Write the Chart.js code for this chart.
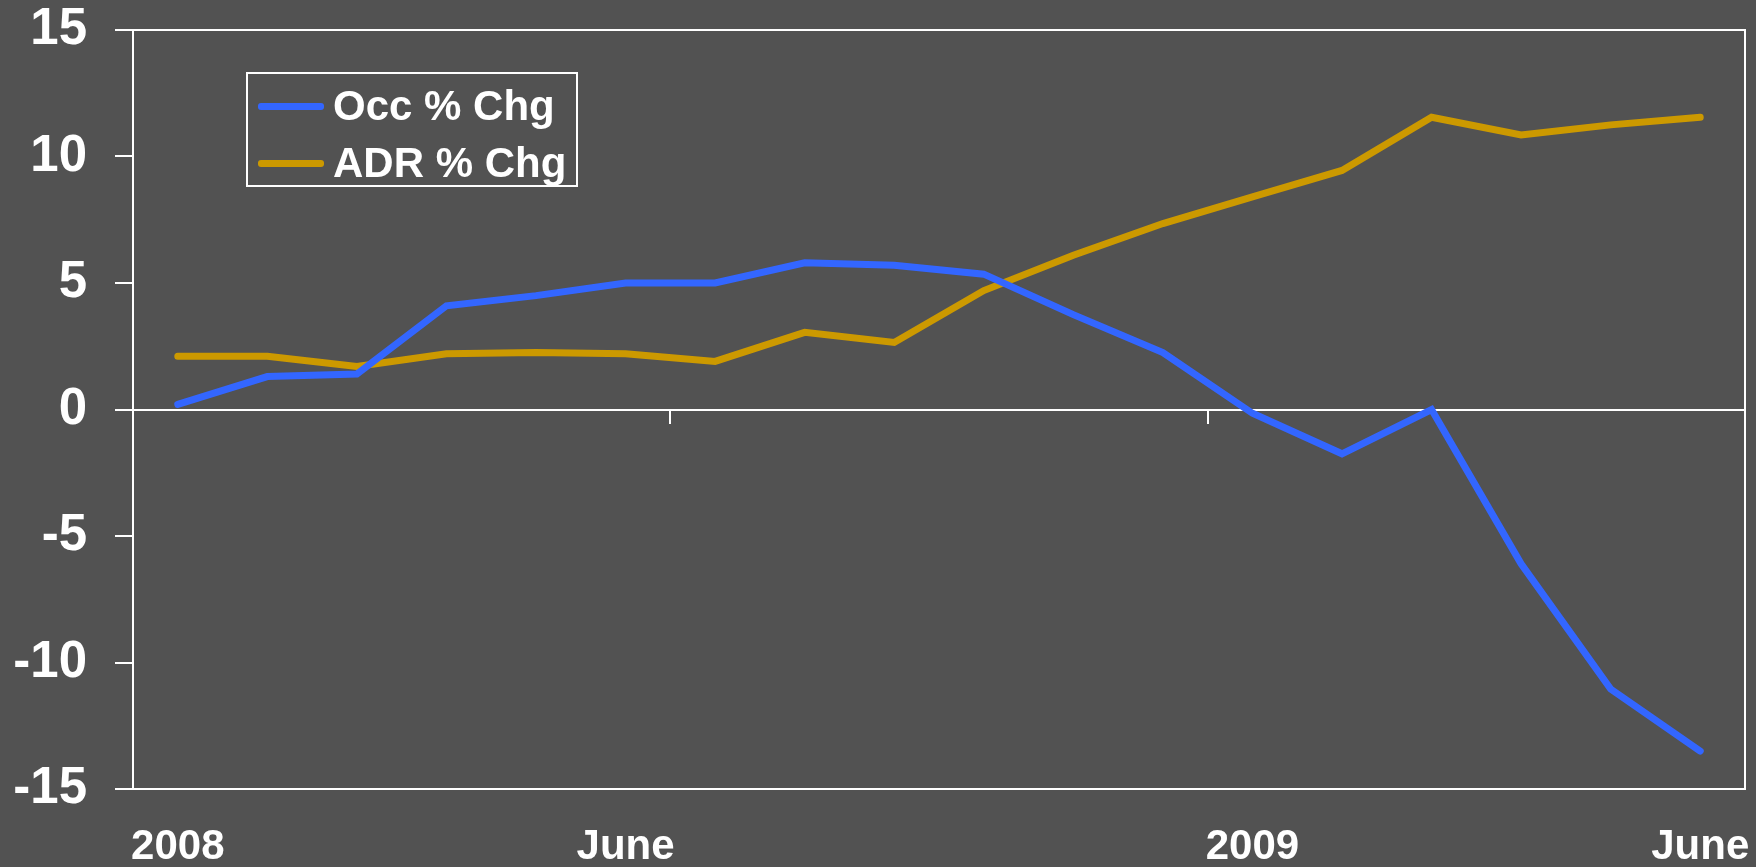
<!DOCTYPE html>
<html>
<head>
<meta charset="utf-8">
<title>Occ and ADR % Chg</title>
<script src="https://cdn.jsdelivr.net/npm/chart.js@4/dist/chart.umd.min.js"></script>
<style>
  body { margin: 0; background: #525252; }
  #wrap { position: relative; width: 1756px; height: 867px; }
  #legend {
    position: absolute; left: 246px; top: 72px; width: 328px; height: 111px;
    border: 2px solid #fff; font: bold 42px "Liberation Sans", Arial, sans-serif; color: #fff;
  }
  #legend div { position: absolute; left: 0; height: 50px; line-height: 50px; white-space: nowrap; }
  #legend span.swatch { position: absolute; left: 10px; top: 22px; width: 66px; height: 7px; border-radius: 3px; }
  #legend span.txt { position: absolute; left: 85px; top: 0; }
</style>
</head>
<body>
<div id="wrap">
  <canvas id="myChart" width="1756" height="867"></canvas>
  <div id="legend"></div>
</div>
<script>
const months = ['Jan 2008', 'Feb 2008', 'Mar 2008', 'Apr 2008', 'May 2008', 'Jun 2008',
  'Jul 2008', 'Aug 2008', 'Sep 2008', 'Oct 2008', 'Nov 2008', 'Dec 2008',
  'Jan 2009', 'Feb 2009', 'Mar 2009', 'Apr 2009', 'May 2009', 'Jun 2009'];
const tickLabels = ['2008', '', '', '', '', 'June', '', '', '', '', '', '', '2009', '', '', '', '', 'June'];
const occChg = [0.2, 1.3, 1.4, 4.1, 4.5, 5.0, 5.0, 5.8, 5.7, 5.35, 3.75, 2.25, -0.15, -1.75, 0.0, -6.1, -11.05, -13.5];
const adrChg = [2.1, 2.1, 1.7, 2.2, 2.25, 2.2, 1.9, 3.05, 2.65, 4.7, 6.1, 7.35, 8.4, 9.45, 11.55, 10.85, 11.25, 11.55];
const yTicks = [-15, -10, -5, 0, 5, 10, 15];
const dividerTicks = [6, 12];

const font = '"Liberation Sans", Arial, sans-serif';

// white frame round the plot area
const frame = {
  id: 'frame',
  beforeDatasetsDraw(chart) {
    const a = chart.chartArea;
    const c = chart.ctx;
    c.save();
    c.strokeStyle = '#fff';
    c.lineWidth = 2;
    c.strokeRect(a.left, a.top, a.right - a.left, a.bottom - a.top);
    c.restore();
  }
};

const ctx = document.getElementById('myChart').getContext('2d');
let myChart = new Chart(ctx, {
  type: 'line',
  data: {
    labels: months,
    datasets: [
      { label: 'Occ % Chg', data: occChg, borderColor: '#3366ff', backgroundColor: '#3366ff' },
      { label: 'ADR % Chg', data: adrChg, borderColor: '#cc9900', backgroundColor: '#cc9900' }
    ]
  },
  options: {
    responsive: false,
    animation: false,
    layout: { padding: { top: 30, right: 11, left: 0, bottom: 0 } },
    elements: {
      line: { borderWidth: 7, borderCapStyle: 'round', tension: 0 },
      point: { radius: 0, hoverRadius: 0 }
    },
    plugins: { legend: { display: false }, tooltip: { enabled: false } },
    scales: {
      y: {
        position: 'left',
        min: -15, max: 15,
        afterBuildTicks: s => { s.ticks = yTicks.map(v => ({ value: v })); },
        afterFit: s => { s.width = 133; s.paddingTop = 0; s.paddingBottom = 0; },
        grid: { drawOnChartArea: false, drawTicks: true, tickLength: 18, color: '#fff', lineWidth: 2 },
        border: { display: true, color: '#fff', width: 2 },
        ticks: { color: '#fff', padding: 28, font: { family: font, size: 51, weight: 'bold' } }
      },
      x: {
        type: 'category',
        position: { y: 0 },
        offset: true,
        afterFit: s => { s.paddingLeft = 0; s.paddingRight = 0; },
        grid: {
          offset: true, drawOnChartArea: false, drawTicks: true, tickLength: 13, lineWidth: 2,
          color: c => dividerTicks.includes(c.index) ? '#fff' : 'rgba(0,0,0,0)'
        },
        border: { display: true, color: '#fff', width: 2 },
        ticks: { display: false }
      },
      x2: {
        type: 'category',
        axis: 'x',
        position: 'bottom',
        offset: true,
        afterFit: s => { s.height = 78; s.paddingLeft = 0; s.paddingRight = 0; },
        grid: { display: false, drawTicks: false },
        border: { display: false },
        ticks: {
          autoSkip: false, maxRotation: 0, padding: 37, color: '#fff',
          font: { family: font, size: 42, weight: 'bold', lineHeight: 1 },
          callback: (v, i) => tickLabels[i]
        }
      }
    }
  },
  plugins: [frame]
});

// legend box built from the datasets
const legend = document.getElementById('legend');
myChart.data.datasets.forEach((ds, i) => {
  const row = document.createElement('div');
  row.style.top = (7 + i * 57) + 'px';
  row.innerHTML = '<span class="swatch" style="background:' + ds.borderColor + '"></span><span class="txt">' + ds.label + '</span>';
  legend.appendChild(row);
});
</script>
</body>
</html>
